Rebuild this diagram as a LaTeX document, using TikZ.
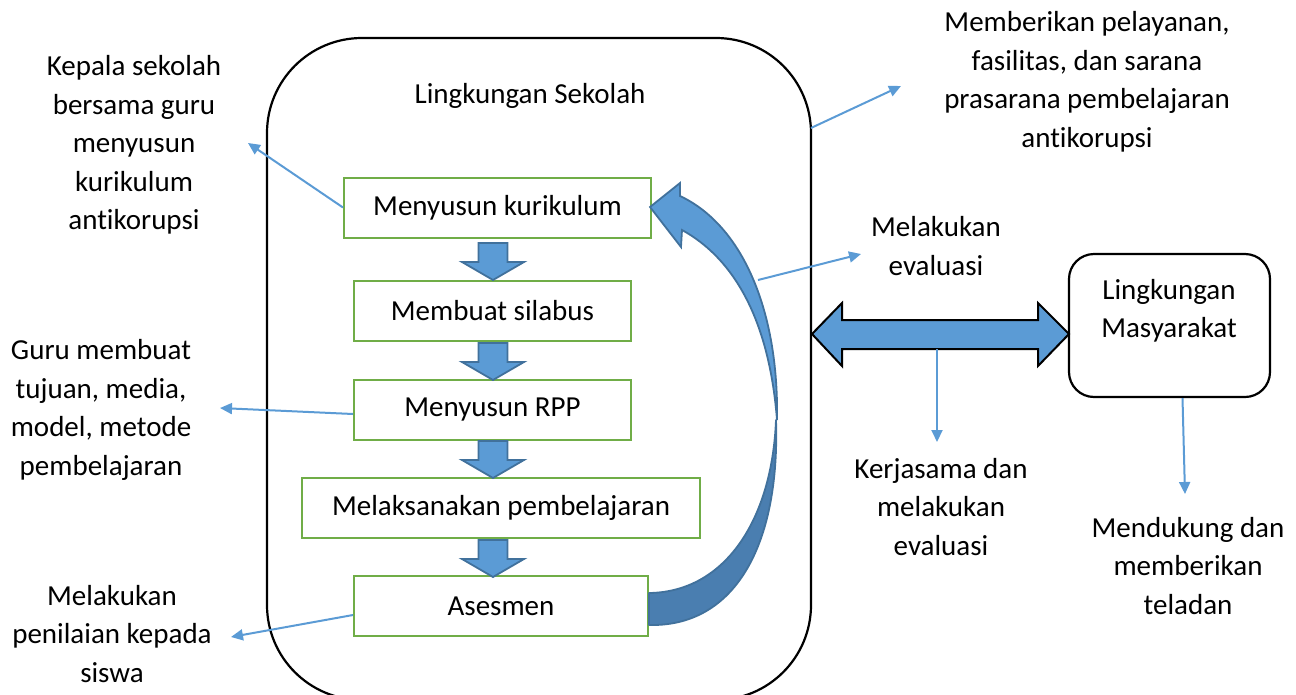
\documentclass[tikz,border=0pt]{standalone}
\usepackage{fontspec}
\setmainfont{Carlito}[Ligatures=NoCommon]
\usetikzlibrary{arrows.meta}
\definecolor{grn}{HTML}{70AD47}
\definecolor{blu}{HTML}{5B9BD5}
\definecolor{dblu}{HTML}{41719C}
\definecolor{bandblu}{HTML}{4A7EB0}
\tikzset{
  txt/.style={align=center, font=\fontsize{29}{38.5}\selectfont, inner sep=0pt},
  gbox/.style={draw=grn, line width=2pt, minimum height=60pt, font=\fontsize{29}{32}\selectfont, inner sep=0pt},
  thinarr/.style={draw=blu, line width=2pt, -{Triangle[length=12pt,width=11pt]}},
  downblk/.pic={\draw[fill=blu, draw=dblu, line width=1.8pt, line join=miter]
    (-14.5,0) -- (14.5,0) -- (14.5,19) -- (31,19) -- (0,37) -- (-31,19) -- (-14.5,19) -- cycle;}
}
\begin{document}
\begin{tikzpicture}[x=1pt,y=-1pt]
\useasboundingbox (0,0) rectangle (1296,694);
% school environment
\draw[line width=2.2pt, rounded corners=95pt] (267,38) rectangle (811,700);
\node[txt] (ls) at (530,96) {Lingkungan Sekolah};
% green boxes
\node[gbox, minimum width=307pt] (b1) at (497.5,207.5) {Menyusun kurikulum};
\node[gbox, minimum width=277pt] (b2) at (492.5,311) {Membuat silabus};
\node[gbox, minimum width=277pt] (b3) at (492.5,410) {Menyusun RPP};
\node[gbox, minimum width=398pt] (b4) at (501,508) {Melaksanakan pembelajaran};
\node[gbox, minimum width=294pt] (b5) at (501,606) {Asesmen};
% block arrows
\pic at (493,243) {downblk};
\pic at (493,343) {downblk};
\pic at (493,441) {downblk};
\pic at (493,540) {downblk};
% curved arrow (back band)
\draw[fill=bandblu, draw=dblu, line width=1.8pt, line join=round]
  (649,593) .. controls (725,592) and (772,520) .. (776,420)
  .. controls (780,545) and (735,627) .. (649,625) -- cycle;
% curved arrow (front band with head)
\draw[fill=blu, draw=dblu, line width=1.8pt, line join=miter]
  (680,196) .. controls (742,225) and (779,310) .. (777,420)
  .. controls (770,330) and (740,262) .. (682,230)
  -- (681,247) -- (650,207) -- (680,183) -- cycle;
% society box
\node[draw, line width=2.2pt, rounded corners=25pt, minimum width=201pt, minimum height=143pt] (lm) at (1169.5,325.5) {};
\node[txt] (lmt) at (1169,311) {Lingkungan\\Masyarakat};
% double arrow
\draw[fill=blu, draw=black, line width=2pt, line join=miter]
  (812,334) -- (842,303) -- (842,320) -- (1038,320) -- (1038,303) -- (1069,334)
  -- (1038,366) -- (1038,349) -- (842,349) -- (842,366) -- cycle;
\coordinate (dab) at (937,349);
% texts
\node[txt] (t1) at (134,145) {Kepala sekolah\\bersama guru\\menyusun\\kurikulum\\antikorupsi};
\node[txt] (t2) at (101,410) {Guru membuat\\tujuan, media,\\model, metode\\pembelajaran};
\node[txt] (t3) at (112,634) {Melakukan\\penilaian kepada\\siswa};
\node[txt] (t4) at (1087,82) {Memberikan pelayanan,\\fasilitas, dan sarana\\prasarana pembelajaran\\antikorupsi};
\node[txt] (t5) at (936,246) {Melakukan\\evaluasi};
\node[txt] (t6) at (941,507) {Kerjasama dan\\melakukan\\evaluasi};
\node[txt] (t7) at (1188,566) {Mendukung dan\\memberikan\\teladan};
% thin arrows
\coordinate (a1) at (248,143);
\coordinate (a2) at (220,408);
\coordinate (a3) at (231,637);
\coordinate (s4) at (811,128);
\coordinate (a4) at (901,86);
\coordinate (s5) at (758,280);
\coordinate (a5) at (861,254);
\coordinate (a6) at (937,442);
\coordinate (a7) at (1185,494);
\draw[thinarr] (b1.west) -- (a1);
\draw[thinarr] (b3.west) ++(0,4) -- (a2);
\draw[thinarr] (b5.west) ++(0,9) -- (a3);
\draw[thinarr] (s4) -- (a4);
\draw[thinarr] (s5) -- (a5);
\draw[thinarr] (dab) -- (a6);
\draw[thinarr] (lm.south) ++(13,0) -- (a7);
\end{tikzpicture}
\end{document}
